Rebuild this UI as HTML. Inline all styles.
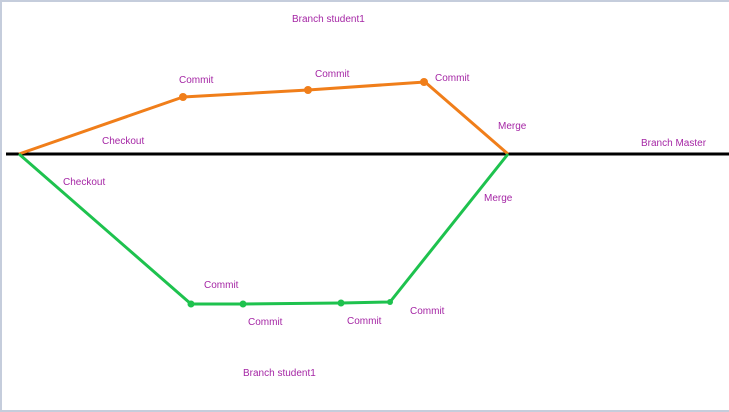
<!DOCTYPE html>
<html><head><style>
html,body{margin:0;padding:0;background:#fff;}
body{width:729px;height:412px;overflow:hidden;position:relative;}
svg{position:absolute;left:0;top:0;}
text{font-family:"Liberation Sans",sans-serif;font-size:10px;fill:#a526a5;}
</style></head><body>
<svg width="729" height="412" viewBox="0 0 729 412">
<rect x="0" y="0" width="729" height="412" fill="#fff"/>
<rect x="0" y="0" width="729" height="2" fill="#c5cddc"/>
<rect x="0" y="0" width="2" height="412" fill="#c5cddc"/>
<rect x="0" y="410" width="729" height="2" fill="#c5cddc"/>
<line x1="6" y1="154" x2="729" y2="154" stroke="#000" stroke-width="3"/>
<polyline points="19,154 183,97 308,90 425,82 508,154" fill="none" stroke="#f07e1a" stroke-width="3" stroke-linejoin="round"/>
<circle cx="183" cy="97" r="4" fill="#f07e1a"/>
<circle cx="308" cy="90" r="4" fill="#f07e1a"/>
<circle cx="424" cy="82" r="4" fill="#f07e1a"/>
<polyline points="19,154 191,304 243,304 341,303 390,302 508,154" fill="none" stroke="#1ec24e" stroke-width="3" stroke-linejoin="round"/>
<circle cx="191" cy="304" r="3.5" fill="#1ec24e"/>
<circle cx="243" cy="304" r="3.5" fill="#1ec24e"/>
<circle cx="341" cy="303" r="3.5" fill="#1ec24e"/>
<circle cx="390" cy="302" r="3" fill="#1ec24e"/>
<text x="292" y="22">Branch student1</text>
<text x="179" y="83">Commit</text>
<text x="315" y="77">Commit</text>
<text x="435" y="81">Commit</text>
<text x="102" y="144">Checkout</text>
<text x="498" y="129">Merge</text>
<text x="641" y="146">Branch Master</text>
<text x="63" y="185">Checkout</text>
<text x="484" y="201">Merge</text>
<text x="204" y="288">Commit</text>
<text x="248" y="325">Commit</text>
<text x="347" y="324">Commit</text>
<text x="410" y="314">Commit</text>
<text x="243" y="376">Branch student1</text>
</svg>
</body></html>
